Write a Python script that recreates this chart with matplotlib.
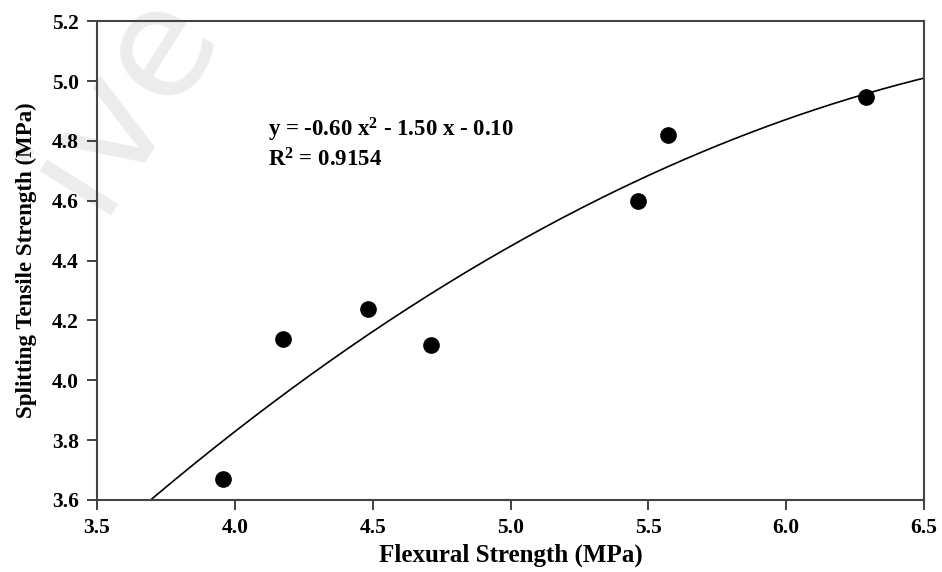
import numpy as np
import matplotlib
matplotlib.use("Agg")
import matplotlib.pyplot as plt

# data
flexural = [3.958, 4.174, 4.482, 4.711, 5.461, 5.570, 6.291]
tensile = [3.670, 4.137, 4.237, 4.118, 4.600, 4.818, 4.948]

eq_text = r"y = -0.60 x$^\mathregular{2}$ - 1.50 x - 0.10"
r2_text = r"R$^\mathregular{2}$ = 0.9154"

plt.rcParams['font.family'] = 'Liberation Serif'
plt.rcParams['font.weight'] = 'bold'
plt.rcParams['axes.labelweight'] = 'bold'
plt.rcParams['mathtext.fontset'] = 'custom'
plt.rcParams['mathtext.rm'] = 'Liberation Serif:bold'
plt.rcParams['mathtext.it'] = 'Liberation Serif:bold'
plt.rcParams['mathtext.bf'] = 'Liberation Serif:bold'

fig = plt.figure(figsize=(9.42, 5.72), dpi=100)
ax = fig.add_axes([0.103, 0.126, 0.878, 0.837])

# faint watermark, behind everything
fig.text(0.13, 0.83, "ive", fontsize=110, color='#ececec', rotation=58,
         ha='center', va='center', fontfamily='DejaVu Sans', fontweight='normal', zorder=-5)

# second order fit through the points
coef = np.polyfit(flexural, tensile, 2)
xs = np.linspace(3.5, 6.5, 300)
ax.plot(xs, np.polyval(coef, xs), color='black', lw=1.2, zorder=2)
ax.plot(flexural, tensile, 'o', color='black', ms=11, zorder=3)

ax.text(4.12, 4.835, eq_text, fontsize=16.5, va='center')
ax.text(4.12, 4.735, r2_text, fontsize=16.5, va='center')

ax.set_xlim(3.5, 6.5)
ax.set_ylim(3.6, 5.2)
ax.set_xticks(np.arange(3.5, 6.51, 0.5))
ax.set_yticks(np.arange(3.6, 5.21, 0.2))
ax.xaxis.set_major_formatter(matplotlib.ticker.FormatStrFormatter('%.1f'))
ax.yaxis.set_major_formatter(matplotlib.ticker.FormatStrFormatter('%.1f'))
ax.tick_params(direction='out', length=7, width=1.3, labelsize=15.5, color='#333333')
ax.tick_params(axis='x', pad=6)
ax.tick_params(axis='y', pad=6)
for s in ax.spines.values():
    s.set_linewidth(1.5)
    s.set_color('#444444')
ax.patch.set_alpha(0)

ax.set_xlabel('Flexural Strength (MPa)', fontsize=18, labelpad=4)
ax.set_ylabel('Splitting Tensile Strength (MPa)', fontsize=16.5, labelpad=11)

fig.savefig('out.png', dpi=100)
